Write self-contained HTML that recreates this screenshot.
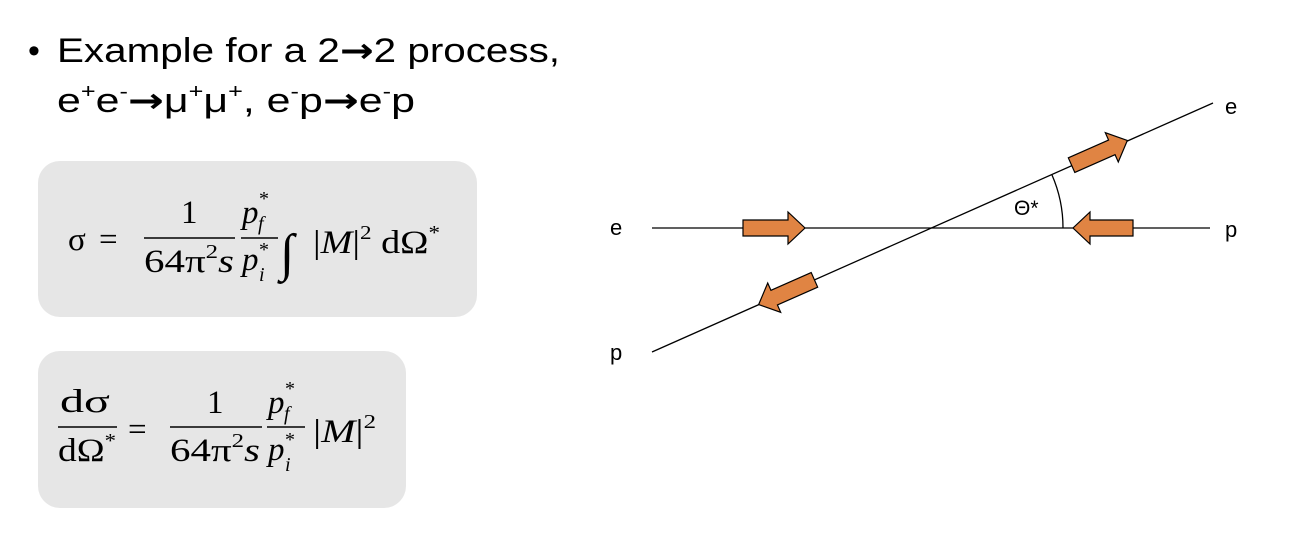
<!DOCTYPE html>
<html><head><meta charset="utf-8"><style>
body{margin:0;background:#fff;width:1310px;height:554px;overflow:hidden}
svg text{font-family:"Liberation Sans",sans-serif}
.m{font-family:"Liberation Serif",serif;font-size:33px;fill:#000}
.mi{font-family:"Liberation Serif",serif;font-size:33px;font-style:italic}
.sm{font-size:20px}
.ar{font-family:"DejaVu Sans",sans-serif;font-weight:bold}
</style></head><body>
<svg width="1310" height="554">
<g font-size="34" fill="#000">
<text x="28" y="62">•</text>
<text x="57" y="62" textLength="503" lengthAdjust="spacingAndGlyphs">Example for a 2<tspan class="ar">→</tspan>2 process,</text>
<text x="57" y="112" textLength="358" lengthAdjust="spacingAndGlyphs">e<tspan font-size="20" dy="-14">+</tspan><tspan dy="14">e</tspan><tspan font-size="20" dy="-14">-</tspan><tspan dy="14" class="ar">→</tspan><tspan>μ</tspan><tspan font-size="20" dy="-14">+</tspan><tspan dy="14">μ</tspan><tspan font-size="20" dy="-14">+</tspan><tspan dy="14">, e</tspan><tspan font-size="20" dy="-14">-</tspan><tspan dy="14">p</tspan><tspan class="ar">→</tspan><tspan>e</tspan><tspan font-size="20" dy="-14">-</tspan><tspan dy="14">p</tspan></text>
</g>
<rect x="38" y="161" width="439" height="156" rx="22" fill="#e6e6e6"/>
<rect x="38" y="351" width="368" height="157" rx="22" fill="#e6e6e6"/>
<g>
<text class="m" x="68" y="250">σ</text>
<text class="m" x="99" y="250">=</text>
<text class="m" x="181" y="223">1</text>
<line x1="144" y1="238" x2="235" y2="238" stroke="#000" stroke-width="1.5"/>
<text class="m" x="144" y="272" textLength="90" lengthAdjust="spacingAndGlyphs">64π<tspan class="sm" dy="-14">2</tspan><tspan class="mi" dy="14">s</tspan></text>
<text class="mi" x="242" y="223">p</text><text class="m sm" x="259" y="205">*</text>
<text class="mi sm" x="258" y="230">f</text>
<line x1="241" y1="238" x2="278" y2="238" stroke="#000" stroke-width="1.5"/>
<text class="mi" x="242" y="270">p</text><text class="m sm" x="259" y="256">*</text>
<text class="mi sm" x="259" y="281">i</text>
<text class="m" x="280" y="270" style="font-size:52px">∫</text>
<text class="m" x="313" y="253" textLength="127" lengthAdjust="spacingAndGlyphs">|<tspan class="mi">M</tspan>|<tspan class="sm" dy="-14">2</tspan><tspan dy="14"> dΩ</tspan><tspan class="sm" dy="-14">*</tspan></text>
</g>
<g>
<text class="m" x="60" y="412" textLength="50" lengthAdjust="spacingAndGlyphs">dσ</text>
<line x1="58" y1="427" x2="117" y2="427" stroke="#000" stroke-width="1.5"/>
<text class="m" x="58" y="461" textLength="58" lengthAdjust="spacingAndGlyphs">dΩ<tspan class="sm" dy="-14">*</tspan></text>
<text class="m" x="128" y="440">=</text>
<text class="m" x="207" y="413">1</text>
<line x1="170" y1="427" x2="262" y2="427" stroke="#000" stroke-width="1.5"/>
<text class="m" x="170" y="461" textLength="90" lengthAdjust="spacingAndGlyphs">64π<tspan class="sm" dy="-14">2</tspan><tspan class="mi" dy="14">s</tspan></text>
<text class="mi" x="268" y="413">p</text><text class="m sm" x="285" y="395">*</text>
<text class="mi sm" x="284" y="420">f</text>
<line x1="267" y1="427" x2="305" y2="427" stroke="#000" stroke-width="1.5"/>
<text class="mi" x="268" y="460">p</text><text class="m sm" x="285" y="446">*</text>
<text class="mi sm" x="285" y="471">i</text>
<text class="m" x="313" y="442" textLength="63" lengthAdjust="spacingAndGlyphs">|<tspan class="mi">M</tspan>|<tspan class="sm" dy="-14">2</tspan></text>
</g>
<g stroke="#000" stroke-width="1.3">
<line x1="652" y1="228" x2="1210" y2="228"/>
<line x1="652" y1="352" x2="1213" y2="103"/>
<path d="M1063 228 A132 132 0 0 0 1052 175" fill="none"/>
<g fill="#e08443" stroke="#000" stroke-width="1.2">
<polygon points="743,220 788,220 788,212 805,228 788,244 788,236 743,236"/>
<polygon points="1133,220 1090,220 1090,212 1073,228 1090,244 1090,236 1133,236"/>
<g transform="translate(1099,153) rotate(-23.9)"><polygon points="-30,-8 14,-8 14,-16 31,0 14,16 14,8 -30,8"/></g>
<g transform="translate(787,292) rotate(156.1)"><polygon points="-30,-8 14,-8 14,-16 31,0 14,16 14,8 -30,8"/></g>
</g>
</g>
<g font-size="22" fill="#000">
<text x="610" y="235">e</text>
<text x="1225" y="237">p</text>
<text x="1225" y="114">e</text>
<text x="610" y="360">p</text>
<text x="1014" y="215" font-size="21">Θ*</text>
</g>
</svg>
</body></html>
